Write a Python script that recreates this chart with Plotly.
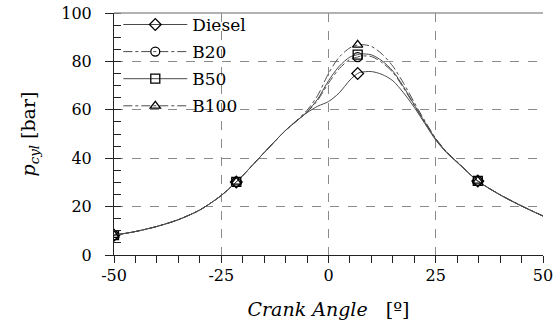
import plotly.graph_objects as go

# ---------------- data ----------------
angle = [-50, -45, -40, -35, -30, -25, -21.5, -20, -15, -10, -7.5, -5, -2.5, 0, 2.5, 5,
         6.8, 7.5, 10, 12.5, 15, 17.5, 20, 22.5, 25, 27.5, 30, 34.8, 40, 45, 50]

diesel = [8.2, 9.7, 11.8, 14.6, 18.6, 24.6, 30.2, 32.8, 42.3, 51.5, 55.3, 58.8, 61.5, 63.4, 67.0, 72.3,
          75.0, 75.5, 75.8, 74.6, 72.0, 67.0, 61.0, 54.2, 47.5, 42.3, 38.2, 30.6, 24.8, 20.2, 16.1]
b20 = [8.2, 9.7, 11.8, 14.6, 18.6, 24.6, 30.2, 32.8, 42.3, 51.5, 55.3, 59.0, 64.0, 71.0, 77.0, 80.8,
       81.8, 82.2, 82.0, 79.5, 75.5, 69.0, 61.8, 54.6, 47.8, 42.5, 38.4, 30.6, 24.9, 20.3, 16.1]
b50 = [8.2, 9.7, 11.8, 14.6, 18.6, 24.6, 30.2, 32.8, 42.3, 51.5, 55.3, 59.2, 64.5, 72.0, 78.0, 81.8,
       82.8, 83.1, 82.7, 80.2, 76.0, 69.5, 62.0, 54.8, 47.9, 42.6, 38.4, 30.6, 24.9, 20.3, 16.1]
b100 = [8.2, 9.7, 11.8, 14.6, 18.6, 24.6, 30.2, 32.8, 42.3, 51.5, 55.5, 59.8, 66.0, 75.0, 81.8, 85.6,
        86.8, 87.0, 86.2, 83.0, 78.0, 71.0, 63.0, 55.3, 48.2, 42.7, 38.5, 30.6, 24.9, 20.3, 16.1]

marker_angle = [-50, -21.5, 6.8, 34.8]

series_names = ["Diesel", "B20", "B50", "B100"]
series_values = [diesel, b20, b50, b100]
series_dash = ["solid", "dashdot", "solid", "dashdot"]
series_symbol = ["diamond-open", "circle-open", "square-open", "triangle-up-open"]

x_ticks = [-50, -25, 0, 25, 50]
x_tick_labels = ["-50", "-25", "0", "25", "50"]
y_ticks = [0, 20, 40, 60, 80, 100]
y_tick_labels = ["0", "20", "40", "60", "80", "100"]

FONT = "DejaVu Serif"
LINE_COL = "#4a4a4a"

fig = go.Figure()

for name, vals, dash, sym in zip(series_names, series_values, series_dash, series_symbol):
    fig.add_trace(go.Scatter(
        x=angle, y=vals, mode="lines", line=dict(color=LINE_COL, width=1, dash=dash, shape="spline", smoothing=0.8),
        showlegend=False, hoverinfo="skip"))
    mx = [a for a in angle if a in marker_angle]
    my = [v for a, v in zip(angle, vals) if a in marker_angle]
    fig.add_trace(go.Scatter(
        x=mx, y=my, mode="markers",
        marker=dict(symbol=sym, size=9, color="black", line=dict(width=1.3, color="black")),
        showlegend=False))
    fig.add_trace(go.Scatter(
        x=[None], y=[None], mode="lines+markers", name=name, legendgroup=name,
        line=dict(color=LINE_COL, width=1, dash=dash),
        marker=dict(symbol=sym, size=9, color="black", line=dict(width=1.3, color="black"))))

axis_common = dict(
    showline=True, linecolor="#222", linewidth=1, mirror=False,
    showgrid=True, gridcolor="#8a8a8a", griddash="dash", gridwidth=1,
    zeroline=False, ticks="outside", tickcolor="#222",
    tickfont=dict(family=FONT, size=16, color="black"),
    automargin=False,
)

fig.update_xaxes(
    range=[-50, 50], tickvals=x_ticks, ticktext=x_tick_labels, ticklen=6, ticklabelstandoff=0,
    minor=dict(dtick=5, ticks="outside", ticklen=7, tickcolor="#222", showgrid=False),
    title=dict(text="<i>Crank Angle</i>   [º]", font=dict(family=FONT, size=19, color="black"), standoff=18),
    **axis_common)
fig.update_yaxes(
    range=[0, 100], tickvals=y_ticks, ticktext=y_tick_labels, ticklen=8, ticklabelstandoff=10,
    minor=dict(dtick=5, ticks="inside", ticklen=7, tickcolor="#222", showgrid=False),
    title=dict(text="<i>p</i><sub><i>cyl</i></sub> [bar]", font=dict(family=FONT, size=19, color="black"), standoff=20),
    **axis_common)

# white panel behind the legend, covering the grid but not the curves or the top border
fig.add_shape(type="rect", xref="paper", yref="paper", x0=0.002, x1=0.305, y0=0.56, y1=0.995,
              line=dict(width=0), fillcolor="white", layer="between")

fig.add_shape(type="line", xref="paper", yref="paper", x0=0, x1=1, y0=1, y1=1,
              line=dict(color="#999", width=1.5))

fig.update_layout(
    width=559, height=328,
    margin=dict(l=114, r=16, t=13, b=73, autoexpand=False),
    paper_bgcolor="white", plot_bgcolor="white",
    legend=dict(x=0.01, y=1.025, xanchor="left", yanchor="top",
                bgcolor="rgba(255,255,255,0)", borderwidth=0, traceorder="grouped", tracegroupgap=2,
                itemwidth=64,
                font=dict(family=FONT, size=17, color="black")),
)

fig.write_html("out.html")
